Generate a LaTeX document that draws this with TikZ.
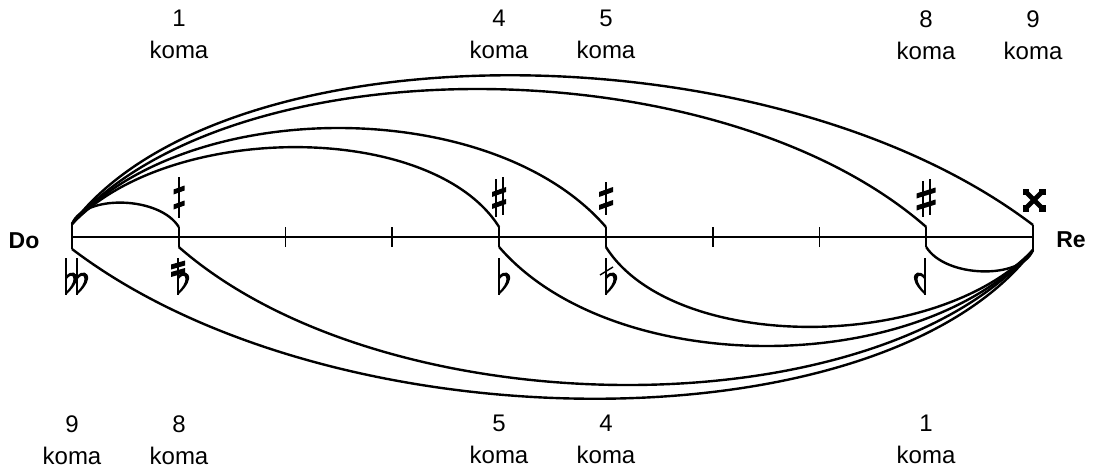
\documentclass[tikz,border=0pt]{standalone}
\usepackage{fontspec}
\setmainfont{Liberation Sans}
\usetikzlibrary{calc}

% thick slanted bar of a sharp: half width, centre y, half rise
\newcommand{\komabar}[3]{\fill ({-#1},{#2+#3+2.5}) -- ({#1},{#2-#3+2.5}) -- ({#1},{#2-#3-2.5}) -- ({-#1},{#2+#3-2.5}) -- cycle;}
% stem and bowl of a flat
\newcommand{\bemolbody}{\draw[line width=.8pt] (0,-19) -- (0,18);
 \fill (0,-1) .. controls (5,-7) and (12,-5) .. (11,2) .. controls (10,8) and (5,13) .. (0,18) -- (0,15) .. controls (4,11) and (7.5,6) .. (7.5,2) .. controls (7.5,-3) and (3,-2) .. (0,3) -- cycle;}

\begin{document}
\begin{tikzpicture}[x=.5pt,y=-.5pt,
 lbl/.style={font=\fontsize{12}{16}\selectfont,align=center,anchor=north,inner sep=0pt},
 nm/.style={font=\fontsize{11.5}{14}\selectfont\bfseries,inner sep=0pt},
 arc/.style={line width=1.2pt},
 axis/.style={line width=.9pt},
 dyz1/.pic={\draw[line width=1pt] (0,-20) -- (0,21); \komabar{5.5}{-7}{2} \komabar{5.5}{8}{2}},
 dyz4/.pic={\draw[line width=1pt] (-3.5,-19) -- (-3.5,19) (3.5,-21) -- (3.5,17); \komabar{7}{-6}{2.5} \komabar{7}{6}{2.5}},
 dyz5/.pic={\draw[line width=1pt] (0,-17) -- (0,16); \komabar{7}{-7}{2.5} \komabar{7}{6}{2.5}},
 dyz8/.pic={\draw[line width=1pt] (-3.5,-18) -- (-3.5,18) (3.5,-20) -- (3.5,16); \komabar{9.5}{-6}{3} \komabar{9.5}{6}{3}},
 dyz9/.pic={\draw[line width=2.4pt] (-7,-7) -- (7,7) (-7,7) -- (7,-7);
  \foreach \sx/\sy in {1/1,1/-1,-1/1,-1/-1} \fill (\sx*5,\sy*5) rectangle (\sx*11.5,\sy*11.5);},
 bml1/.pic={\begin{scope}[xscale=-1]\bemolbody\end{scope}},
 bml4/.pic={\bemolbody \draw[line width=.7pt] (-6,-2) -- (7,-10);},
 bml5/.pic={\bemolbody},
 bml8/.pic={\bemolbody \komabar{7}{-12}{2} \komabar{7}{-4.5}{2}},
 bml9/.pic={\bemolbody \begin{scope}[shift={(11,0)}]\bemolbody\end{scope}}]
\useasboundingbox (0,0) rectangle (1093,472);

% steps of the whole tone
\foreach \i in {0,...,9} {
 \coordinate (p\i) at ({72+106.78*\i},237);
 \coordinate (t\i) at ({72+106.78*\i},227);
 \coordinate (d\i) at ({72+106.78*\i},247);
}
\coordinate (t0) at (72,224); \coordinate (d0) at (72,249);
\coordinate (t9) at (1033,225); \coordinate (d9) at (1033,250);

\draw[axis] (p0) -- (p9);
\foreach \i in {0,...,9} \draw[axis] (t\i) -- (d\i);

% sharps, from Do
\draw[arc] (t0) .. controls +(12,-30) and +(-19,-31) .. (t1);
\draw[arc] (t0) .. controls +(98,-103) and +(-67,-106) .. (t4);
\draw[arc] (t0) .. controls +(118,-129) and +(-113,-131) .. (t5);
\draw[arc] (t0) .. controls +(158,-181) and +(-209,-183) .. (t8);
\draw[arc] (t0) .. controls +(150,-198) and +(-263,-200) .. (t9);
% flats, to Re
\draw[arc] (d8) .. controls +(19,31) and +(-12,30) .. (d9);
\draw[arc] (d5) .. controls +(67,106) and +(-98,103) .. (d9);
\draw[arc] (d4) .. controls +(113,131) and +(-118,129) .. (d9);
\draw[arc] (d1) .. controls +(209,183) and +(-158,181) .. (d9);
\draw[arc] (d0) .. controls +(263,200) and +(-150,198) .. (d9);

\pic at (179,197) {dyz1};
\pic at (499,198) {dyz4};
\pic at (606,199) {dyz5};
\pic at (926,199) {dyz8};
\pic at (1034,200) {dyz9};
\pic at (66,277) {bml9};
\pic at (178,277) {bml8};
\pic at (499,277) {bml5};
\pic at (606,277) {bml4};
\pic at (925,277) {bml1};

\node[nm] (do) at (24,241) {Do};
\node[nm] (re) at (1071,240) {Re};

\node[lbl] (u1) at (179,10) {1\\koma};
\node[lbl] (u4) at (499,10) {4\\koma};
\node[lbl] (u5) at (606,10) {5\\koma};
\node[lbl] (u8) at (926,10) {8\\koma};
\node[lbl] (u9) at (1033,10) {9\\koma};
\node[lbl] (l9) at (72,415) {9\\koma};
\node[lbl] (l8) at (179,415) {8\\koma};
\node[lbl] (l5) at (499,415) {5\\koma};
\node[lbl] (l4) at (606,415) {4\\koma};
\node[lbl] (l1) at (926,415) {1\\koma};
\end{tikzpicture}
\end{document}
